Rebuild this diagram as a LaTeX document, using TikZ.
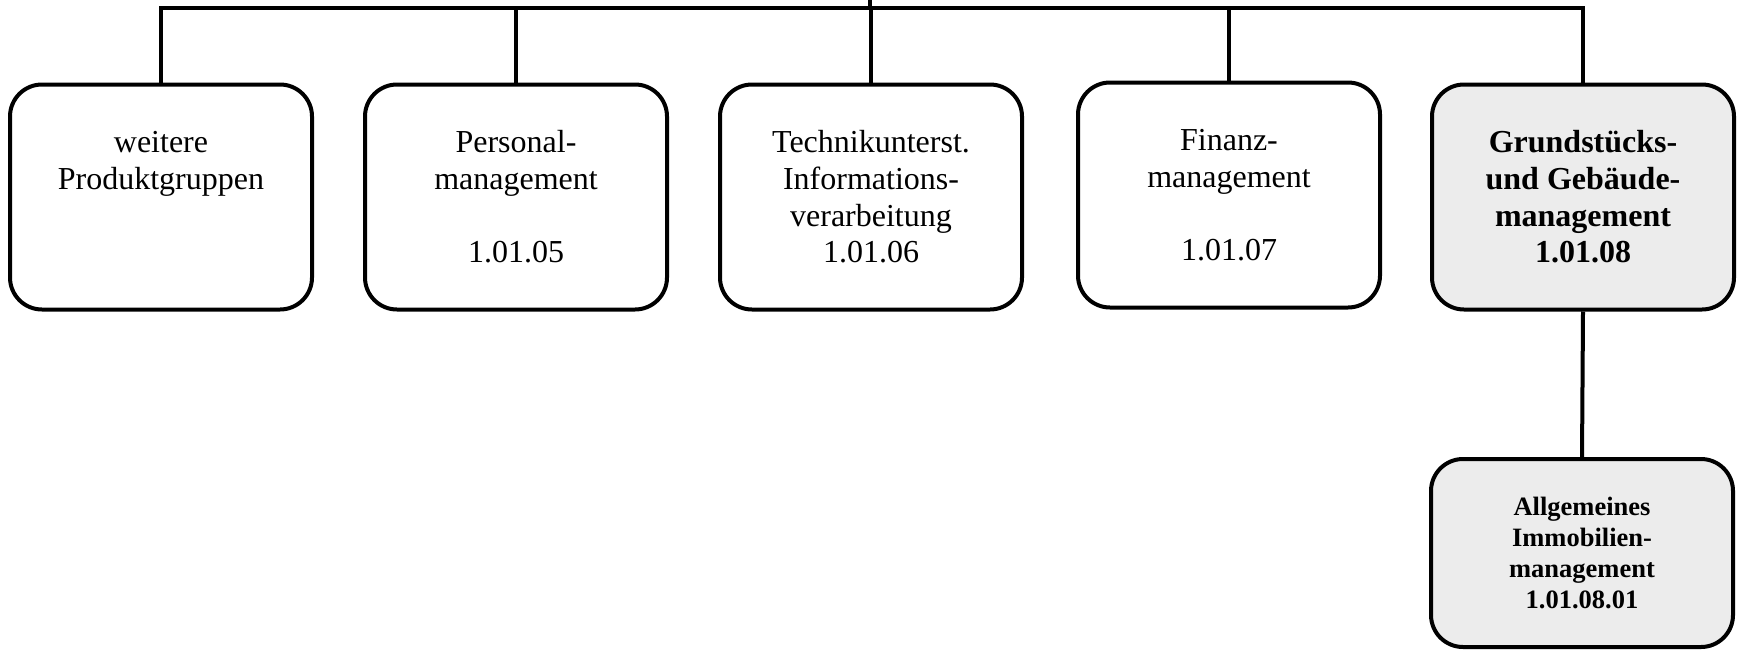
\documentclass[tikz,border=0pt]{standalone}
\usepackage{fontspec}
\setmainfont{Liberation Serif}
\usepackage{tikz}

\begin{document}
\begin{tikzpicture}[x=1pt,y=-1pt,line width=4pt,
  prodbox/.style={draw,rounded corners=32pt,align=center,inner sep=0pt,
    minimum width=302pt,minimum height=225pt,
    font=\fontsize{32}{36.7}\selectfont},
  selbox/.style={prodbox,fill=gray!15,font=\fontsize{32}{36.7}\selectfont\bfseries},
  subbox/.style={prodbox,fill=gray!15,minimum height=188pt,
    font=\fontsize{26.5}{30.7}\selectfont\bfseries}]
  \useasboundingbox (0,0) rectangle (1742,651);

  \node[prodbox] (pg) at (161,197) {weitere\\Produktgruppen\\~\\~};
  \node[prodbox] (pm) at (516,197) {Personal-\\management\\~\\1.01.05};
  \node[prodbox] (tiv) at (871,197) {Technikunterst.\\Informations-\\verarbeitung\\1.01.06};
  \node[prodbox] (fm) at (1229,195) {Finanz-\\management\\~\\1.01.07};
  \node[selbox] (ggm) at (1583,197) {Grundst\"ucks-\\und Geb\"aude-\\management\\1.01.08};
  \node[subbox] (aim) at (1582,553) {Allgemeines\\Immobilien-\\management\\1.01.08.01};

  \coordinate (top) at (870,-4); \coordinate (rail) at (870,8);
  \draw (top) -- (rail);
  \foreach \n in {pg,pm,tiv,fm,ggm} \draw (\n.north) |- (rail);
  \draw (ggm.south) -- (aim.north);
\end{tikzpicture}
\end{document}
